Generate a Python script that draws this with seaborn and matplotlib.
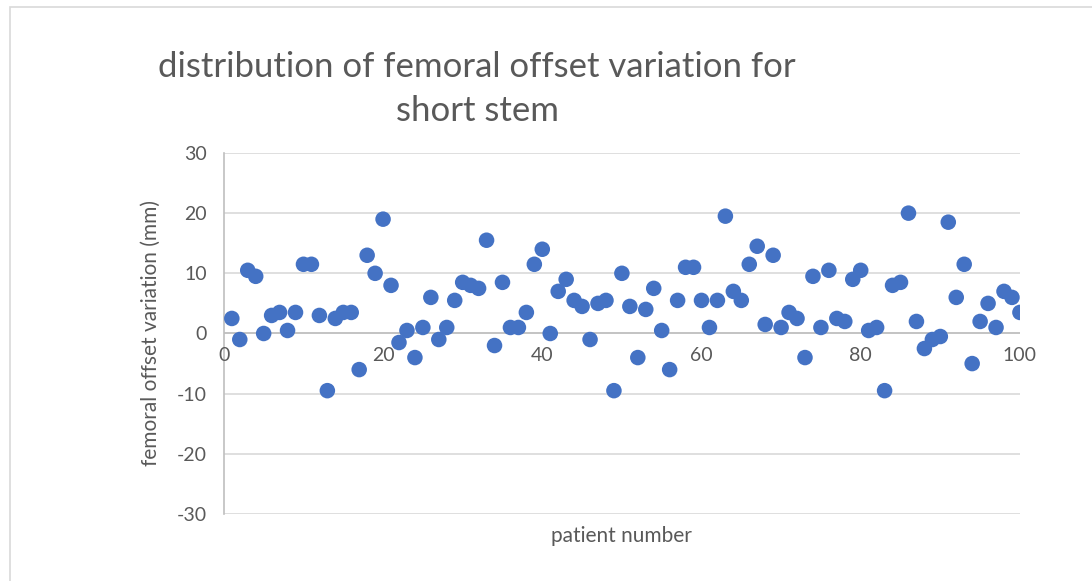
import pandas as pd
import matplotlib.pyplot as plt
import seaborn as sns
from matplotlib.patches import Rectangle

# patient numbers 1..100 and femoral offset variation (mm)
patient = list(range(1, 101))
offset_var = [
    2.5, -1, 10.5, 9.5, 0, 3, 3.5, 0.5, 3.5, 11.5,
    11.5, 3, -9.5, 2.5, 3.5, 3.5, -6, 13, 10, 19,
    8, -1.5, 0.5, -4, 1, 6, -1, 1, 5.5, 8.5,
    8, 7.5, 15.5, -2, 8.5, 1, 1, 3.5, 11.5, 14,
    0, 7, 9, 5.5, 4.5, -1, 5, 5.5, -9.5, 10,
    4.5, -4, 4, 7.5, 0.5, -6, 5.5, 11, 11, 5.5,
    1, 5.5, 19.5, 7, 5.5, 11.5, 14.5, 1.5, 13, 1,
    3.5, 2.5, -4, 9.5, 1, 10.5, 2.5, 2, 9, 10.5,
    0.5, 1, -9.5, 8, 8.5, 20, 2, -2.5, -1, -0.5,
    18.5, 6, 11.5, -5, 2, 5, 1, 7, 6, 3.5,
]
x_ticks = [0, 20, 40, 60, 80, 100]
y_ticks = [-30, -20, -10, 0, 10, 20, 30]

df = pd.DataFrame({"patient": patient, "offset": offset_var})

sns.set_style("white")
plt.rcParams['font.family'] = ['Lato', 'DejaVu Sans']
plt.rcParams['axes.unicode_minus'] = False
grey = '#595959'

fig = plt.figure(figsize=(10.92, 5.81), dpi=100)
ax = fig.add_axes([0.205, 0.1153, 0.729, 0.6214])

sns.scatterplot(data=df, x="patient", y="offset", ax=ax, color='#4472C4',
                s=125, edgecolor='none', zorder=3)

ax.set_xlim(0, 100)
ax.set_ylim(-30, 30)
ax.set_xticks(x_ticks)
ax.set_yticks(y_ticks)
ax.yaxis.grid(True, color='#D9D9D9', linewidth=1.2)
ax.set_axisbelow(True)

for side in ['top', 'right', 'bottom']:
    ax.spines[side].set_visible(False)
ax.spines['left'].set_color('#BFBFBF')
ax.spines['left'].set_linewidth(1.2)
ax.axhline(0, color='#BFBFBF', linewidth=1.2, zorder=1)

ax.tick_params(axis='both', length=0, labelsize=14, labelcolor=grey)
ax.tick_params(axis='y', pad=12)
# x tick labels sit under the zero line
ax.set_xticklabels([])
for t in x_ticks:
    ax.text(t, -2.2, str(t), ha='center', va='top', fontsize=14, color=grey)

ax.set_xlabel("patient number", fontsize=15, color=grey, labelpad=5)
ax.set_ylabel("femoral offset variation (mm)", fontsize=15, color=grey, labelpad=12)

fig.text(0.437, 0.847, "distribution of femoral offset variation for\nshort stem",
         ha='center', va='center', fontsize=25, color=grey, linespacing=1.45)

fig.patches.append(Rectangle((10 / 1092, -0.01), 1.1, 1 - 7 / 581 + 0.01,
                             transform=fig.transFigure, fill=False,
                             edgecolor='#D9D9D9', linewidth=1.2))

fig.savefig("out.png", dpi=100)
